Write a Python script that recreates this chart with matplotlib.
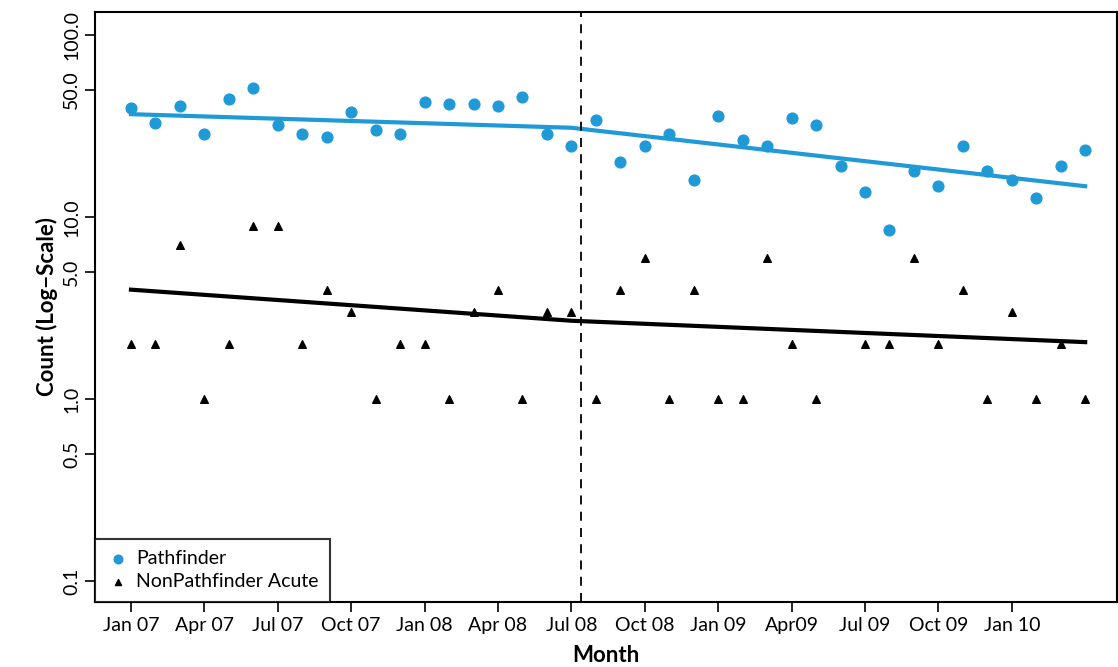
import numpy as np
import matplotlib.pyplot as plt
from matplotlib.ticker import FixedLocator, NullLocator

plt.rcParams['font.family'] = ['Lato', 'DejaVu Sans']

# month index 0 = Jan 07
months = np.arange(40)
pathfinder = [40, 33, 41, 28.6, 44.5, 51, 32, 28.6, 27.5, 38, 30, 28.6, 43, 42, 42, 41, 45.6, 28.6,
              24.5, 34, 20, 24.5, 28.6, 16, 36, 26.5, 24.5, 35, 32, 19, 13.7, 8.5, 18, 14.8, 24.5,
              18, 16, 12.7, 19, 23.4]
nonpathfinder = [2, 2, 7, 1, 2, 9, 9, 2, 4, 3, 1, 2, 2, 1, 3, 4, 1, 3, 3, 1, 4, 6, 1, 4, 1, 1, 6, 2,
                 1, np.nan, 2, 2, 6, 2, 4, 1, 3, 1, 2, 1]

# segmented trend fits (start, break, end)
trend_x = [0, 18, 39]
trend_path = [36.8, 31, 14.8]
trend_non = [4.0, 2.7, 2.06]
break_month = 18.4

tick_pos = [0, 3, 6, 9, 12, 15, 18, 21, 24, 27, 30, 33, 36]
tick_lab = ["Jan 07", "Apr 07", "Jul 07", "Oct 07", "Jan 08", "Apr 08", "Jul 08",
            "Oct 08", "Jan 09", "Apr09", "Jul 09", "Oct 09", "Jan 10"]
y_ticks = [0.1, 0.5, 1.0, 5.0, 10.0, 50.0, 100.0]

blue = "#1f9ad6"

fig = plt.figure(figsize=(11.18, 6.67), dpi=100)
ax = fig.add_axes([95 / 1118, 1 - 602 / 667, 1022 / 1118, 590 / 667])

ax.scatter(months, pathfinder, s=60, color=blue, label="Pathfinder", zorder=3)
ax.scatter(months, nonpathfinder, s=30, marker="^", color="black",
           label="NonPathfinder Acute", zorder=3)
ax.plot(trend_x, trend_path, color=blue, lw=3)
ax.plot(trend_x, trend_non, color="black", lw=3)
ax.axvline(break_month, color="black", ls=(0, (5, 4)), lw=1.3)

ax.set_yscale("log")
ax.set_xlim(-1.47, 40.3)
ax.set_ylim(0.077, 134)
ax.yaxis.set_major_locator(FixedLocator(y_ticks))
ax.yaxis.set_minor_locator(NullLocator())
ax.set_yticklabels([f"{v:.1f}" for v in y_ticks], rotation=90, va="center", fontsize=14)
ax.set_xticks(tick_pos)
ax.set_xticklabels(tick_lab, fontsize=14)
ax.tick_params(length=7, width=1.2)
for s in ax.spines.values():
    s.set_linewidth(1.5)

ax.set_xlabel("Month", fontsize=16, fontweight="bold", labelpad=8)
ax.set_ylabel("Count (Log\u2212Scale)", fontsize=16, fontweight="bold")

leg = ax.legend(loc="lower left", fontsize=14, frameon=True, fancybox=False,
                edgecolor="black", borderaxespad=0, handletextpad=0.3,
                handlelength=1.2, markerscale=0.8,
                borderpad=0.6, labelspacing=0.3)
leg.get_frame().set_linewidth(1.5)

fig.savefig("out.png", dpi=100)
